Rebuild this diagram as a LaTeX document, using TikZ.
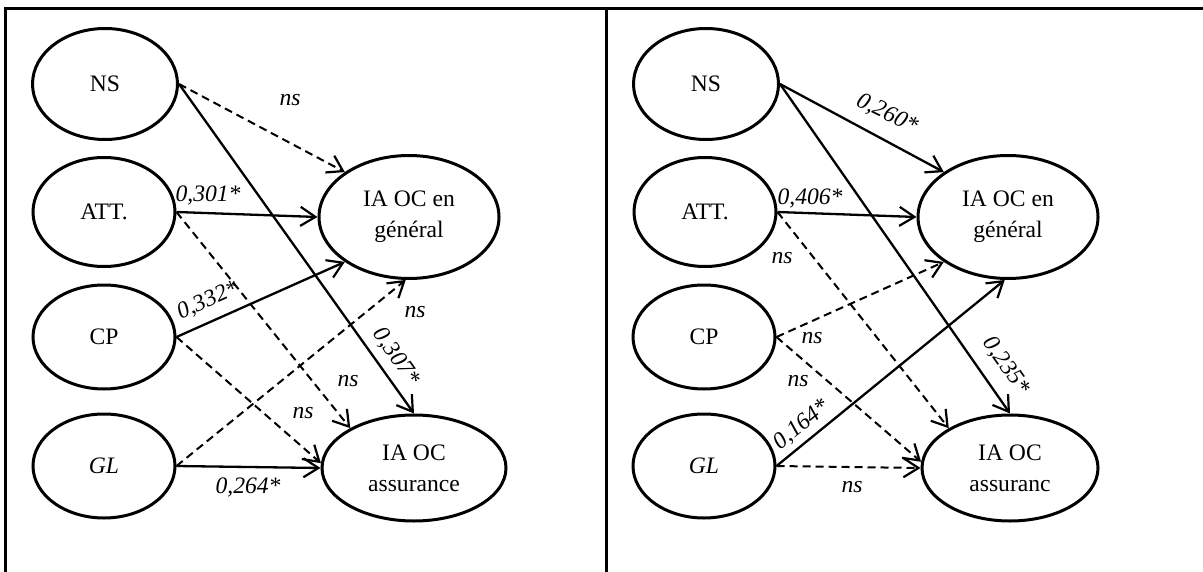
\documentclass[tikz,border=0pt]{standalone}
\usepackage{fontspec}
\setmainfont{Liberation Serif}
\usetikzlibrary{shapes.geometric,arrows.meta}
\tikzset{
  lat/.style={draw, ellipse, line width=1.5pt, inner sep=0pt, align=center,
    font=\fontsize{11.8}{15.5}\selectfont},
  small/.style={lat, minimum width=71pt, minimum height=52pt},
  sig/.style={line width=1.15pt, -{Straight Barb[length=7.5pt,width=9.5pt,line width=1.1pt]}},
  nsig/.style={sig, line width=1pt, dash pattern=on 4pt off 2.5pt},
  coef/.style={font=\fontsize{11.8}{13}\selectfont\itshape, inner sep=0pt},
  frame/.style={line width=1.5pt},
}
\begin{document}
\begin{tikzpicture}[x=0.5pt,y=-0.5pt]
\useasboundingbox (0,0) rectangle (1203,572);
% frame
\draw[frame] (5,572) -- (5,9) -- (1203,9);
\draw[frame] (606.5,9) -- (606.5,572);

% ---------- left panel ----------
\node[lat, minimum width=72.5pt, minimum height=55.5pt] (lns) at (105,84) {NS};
\node[lat, minimum width=71pt, minimum height=54.5pt] (latt) at (104,212) {ATT.};
\node[small] (lcp) at (104,337) {CP};
\node[small] (lgl) at (104,466) {\textit{GL}};
\node[lat, minimum width=90pt, minimum height=61.5pt] (lgen) at (409,217) {IA OC en\\général};
\node[lat, minimum width=92pt, minimum height=53pt] (lass) at (414,468) {IA OC\\assurance};

\draw[nsig] (lns.east) -- (lgen.145);
\draw[sig] (lns.east) -- (lass.north);
\draw[sig] (latt.east) -- (lgen.west);
\draw[nsig] (latt.east) -- (lass.148);
\draw[sig] (lcp.east) -- (lgen.215);
\draw[nsig] (lcp.east) -- (lass.177);
\draw[nsig] (lgl.east) -- (lgen.267);
\draw[sig] (lgl.east) -- (lass.west);

\node[coef] (lc1) at (290,100) {ns};
\node[coef] (lc2) at (208,195) {0,301*};
\node[coef, rotate=24] (lc3) at (208,301) {0,332*};
\node[coef, rotate=-55] (lc4) at (396,357) {0,307*};
\node[coef] (lc5) at (415,312) {ns};
\node[coef] (lc6) at (348,381) {ns};
\node[coef] (lc7) at (303,413) {ns};
\node[coef] (lc8) at (248,487) {0,264*};

% ---------- right panel ----------
\node[lat, minimum width=72.5pt, minimum height=55.5pt] (rns) at (706,84) {NS};
\node[lat, minimum width=71pt, minimum height=54.5pt] (ratt) at (705,212) {ATT.};
\node[small] (rcp) at (704,337) {CP};
\node[small] (rgl) at (704,466) {\textit{GL}};
\node[lat, minimum width=90pt, minimum height=61.5pt] (rgen) at (1008,217) {IA OC en\\général};
\node[lat, minimum width=88pt, minimum height=53pt] (rass) at (1010,468) {IA OC\\assuranc};

\draw[sig] (rns.east) -- (rgen.145);
\draw[sig] (rns.east) -- (rass.north);
\draw[sig] (ratt.east) -- (rgen.west);
\draw[nsig] (ratt.east) -- (rass.147);
\draw[nsig] (rcp.east) -- (rgen.215);
\draw[nsig] (rcp.east) -- (rass.176);
\draw[sig] (rgl.east) -- (rgen.267);
\draw[nsig] (rgl.east) -- (rass.west);

\node[coef, rotate=-26] (rc1) at (887,114) {0,260*};
\node[coef] (rc2) at (810,198) {0,406*};
\node[coef] (rc3) at (782,258) {ns};
\node[coef] (rc4) at (812,338) {ns};
\node[coef] (rc5) at (798,381) {ns};
\node[coef, rotate=39] (rc6) at (802,425) {0,164*};
\node[coef, rotate=-55] (rc7) at (1006,366) {0,235*};
\node[coef] (rc8) at (852,487) {ns};
\end{tikzpicture}
\end{document}
